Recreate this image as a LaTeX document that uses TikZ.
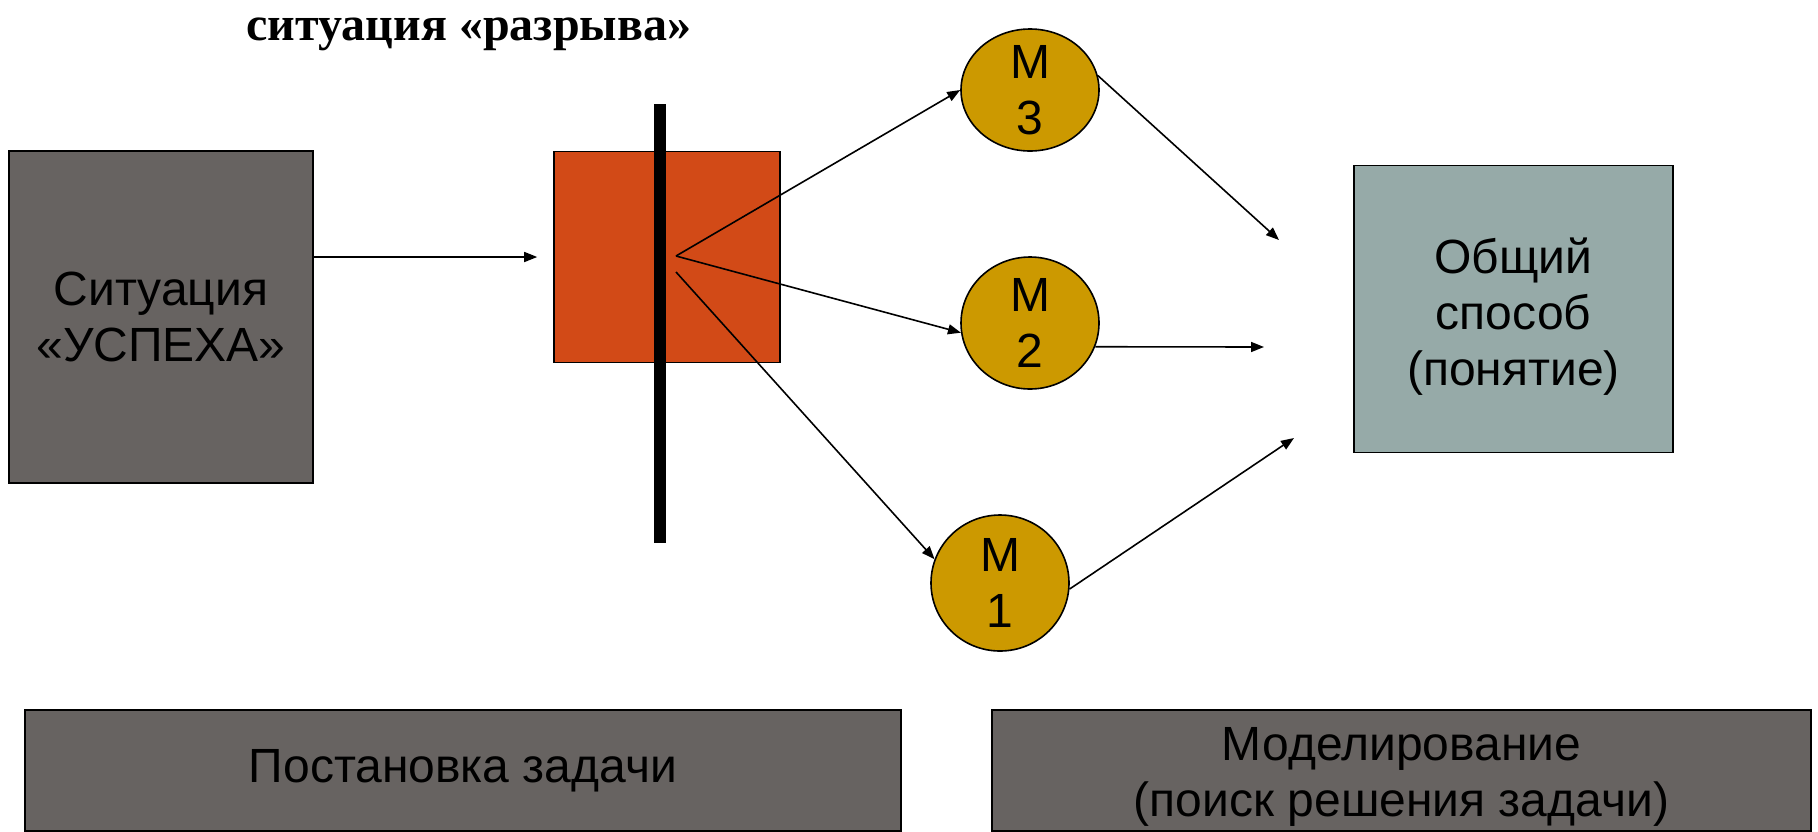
\documentclass[tikz,border=0pt]{standalone}
\usepackage{fontspec}
\setmainfont{Liberation Sans}
\newfontfamily\titlefont{Liberation Serif}
\usetikzlibrary{shapes.geometric,arrows.meta}
\definecolor{boxgray}{RGB}{103,99,97}
\definecolor{gapred}{RGB}{210,74,23}
\definecolor{modelgold}{RGB}{204,153,0}
\definecolor{conceptgray}{RGB}{150,170,168}
\tikzset{
  boxtext/.style={align=center, font=\fontsize{48}{56}\selectfont},
  box/.style={draw, line width=1.6pt, inner sep=0pt, boxtext},
  model/.style={ellipse, draw, fill=modelgold, line width=1.6pt,
    inner sep=-8pt, minimum width=138pt, boxtext},
  link/.style={-{Triangle[length=13pt,width=10pt]}, line width=1.6pt},
}
\begin{document}
\begin{tikzpicture}[x=1pt, y=-1pt]
  \useasboundingbox (0, 0) rectangle (1818, 831);
  \node[anchor=base, font=\titlefont\bfseries\fontsize{48}{54}\selectfont]
    (title) at (469, 40) {ситуация «разрыва»};
  \node[box, fill=boxgray, minimum width=304pt, minimum height=332pt]
    (success) at (161, 317) {Ситуация\\«УСПЕХА»};
  \node[box, fill=gapred, minimum width=226pt, minimum height=211pt]
    (gap) at (667, 257) {};
  \node[fill=black, inner sep=0pt, minimum width=12pt, minimum height=439pt]
    (bar) at (660, 323.5) {};
  \coordinate (fan) at (676, 256);
  \coordinate (fanlow) at (676, 272);
  \foreach \i/\x/\y/\h in {3/1030/90/122, 2/1030/323/132, 1/1000/583/136} {
    \node[model, minimum height=\h pt] (m\i) at (\x, \y) {M\\\i};
  }
  \node[box, fill=conceptgray, minimum width=319pt, minimum height=287pt,
    label={[boxtext, yshift=-8pt]center:Общий\\способ\\(понятие)}]
    (concept) at (1513.5, 309) {};
  \node[box, fill=boxgray, line width=2pt, minimum width=876pt, minimum height=121pt]
    (task) at (463, 770.5) {Постановка задачи};
  \node[box, fill=boxgray, line width=2pt, minimum width=819pt, minimum height=121pt,
    label={[boxtext, yshift=-6pt]center:Моделирование\\(поиск решения задачи)}]
    (search) at (1401.5, 770.5) {};
  \coordinate (in3) at (1279, 240);
  \coordinate (in2) at (1264, 347);
  \coordinate (in1) at (1294, 438);
  \draw[link] (success.east |- gap.west) -- ([xshift=-16pt]gap.west);
  \draw[link] (fan) -- (m3.west);
  \draw[link] (fan) -- (m2.188);
  \draw[link] (fanlow) -- (m1.160);
  \draw[link] (m3.12) -- (in3);
  \draw[link] (m2.-20) -- (in2);
  \draw[link] (m1.-5) -- (in1);
\end{tikzpicture}
\end{document}
